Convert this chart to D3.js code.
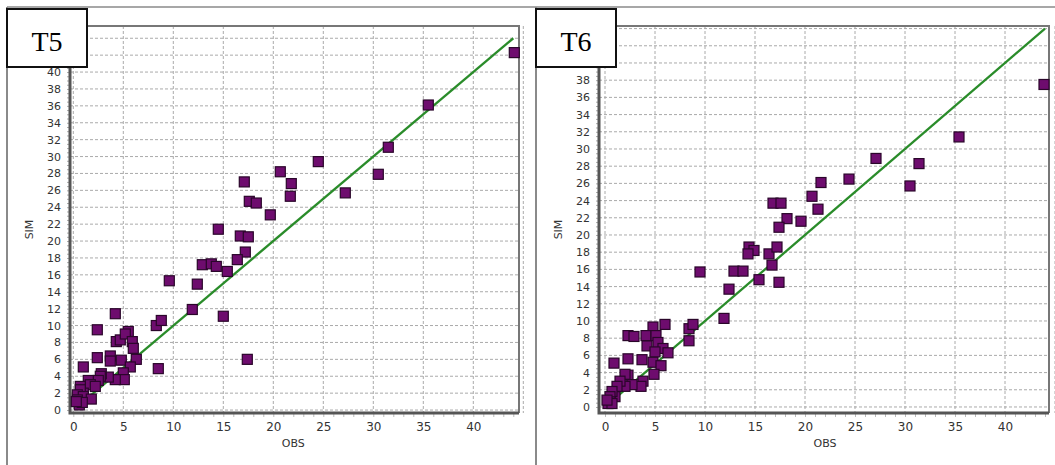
<!DOCTYPE html>
<html>
<head>
<meta charset="utf-8">
<script src="https://cdn.jsdelivr.net/npm/d3@7"></script>
<style>
  body { margin: 0; background: #fff; }
  svg { display: block; font-family: "DejaVu Sans", Verdana, sans-serif; }
</style>
</head>
<body>
<div class="chart"></div>
<script>
// Panel titles
const panelNames = ["T5", "T6"];

// Tick labels (42 and 44 sit under the title boxes, so they are left out)
const xTicks = [0, 5, 10, 15, 20, 25, 30, 35, 40];
const yTicks = d3.range(0, 41, 2);

// T5 observed / simulated
const t5Obs = [44.1, 35.5, 31.5, 30.5, 27.2, 24.5, 21.8, 21.7, 20.7, 17.1, 17.6, 18.3, 19.7, 14.5, 16.7, 17.5,
  17.2, 16.4, 12.9, 13.8, 14.3, 15.4, 9.6, 12.4, 11.9, 15.0, 17.4, 4.2, 2.4, 8.3, 8.8, 8.5,
  1.0, 2.4, 3.7, 3.7, 4.3, 4.7, 5.5, 5.2, 5.9, 6.0, 4.8, 6.3, 5.7, 5.0, 5.1, 4.2,
  3.5, 2.8, 2.7, 2.5, 1.5, 1.7, 2.2, 0.7, 1.0, 0.7, 0.4, 1.0, 1.8, 0.4, 0.6, 0.9, 0.3];
const t5Sim = [42.3, 36.1, 31.1, 27.9, 25.7, 29.4, 26.8, 25.3, 28.2, 27.0, 24.7, 24.5, 23.1, 21.4, 20.6, 20.5,
  18.7, 17.8, 17.2, 17.3, 17.0, 16.4, 15.3, 14.9, 11.9, 11.1, 6.0, 11.4, 9.5, 10.0, 10.6, 4.9,
  5.1, 6.2, 6.4, 5.8, 8.1, 8.3, 9.3, 9.0, 8.1, 7.3, 5.9, 6.0, 5.1, 4.4, 3.6, 3.6,
  3.9, 4.3, 4.0, 3.5, 3.5, 3.0, 2.8, 2.8, 2.0, 2.4, 1.8, 1.6, 1.3, 1.2, 0.6, 0.9, 1.0];

// T6 observed / simulated
const t6Obs = [43.9, 35.4, 27.1, 31.4, 30.5, 24.4, 21.6, 20.7, 21.3, 16.8, 17.6, 18.2, 19.6, 17.4, 14.4, 14.9,
  14.3, 16.4, 17.2, 16.7, 12.9, 13.8, 9.5, 12.4, 15.4, 17.4, 11.9, 8.4, 8.8, 8.4, 6.0, 4.8,
  4.1, 5.1, 2.3, 2.9, 4.2, 5.3, 5.8, 6.3, 5.0, 0.9, 2.3, 3.7, 4.8, 5.6, 4.9, 2.3,
  2.0, 3.8, 3.6, 2.7, 2.0, 1.5, 1.2, 1.0, 0.7, 0.5, 0.5, 0.3, 0.7, 0.2];
const t6Sim = [37.5, 31.4, 28.9, 28.3, 25.7, 26.5, 26.1, 24.5, 23.0, 23.7, 23.7, 21.9, 21.6, 20.9, 18.6, 18.2,
  17.8, 17.8, 18.6, 16.5, 15.8, 15.8, 15.7, 13.7, 14.8, 14.5, 10.3, 9.1, 9.6, 7.7, 9.6, 9.3,
  8.3, 8.3, 8.3, 8.2, 7.1, 7.5, 6.8, 6.3, 6.4, 5.1, 5.6, 5.5, 5.2, 4.8, 3.8, 3.7,
  3.8, 3.0, 2.4, 2.6, 2.4, 3.0, 2.4, 1.2, 1.8, 1.2, 0.6, 0.4, 0.4, 0.8];

// 1:1 reference line end points
const oneToOne = [0.3, 44];

const panels = [
  { name: panelNames[0], obs: t5Obs, sim: t5Sim, left: 70, right: 519, xDom: [-0.33, 44.57], yDom: [-0.35, 45.45], frameX: 7 },
  { name: panelNames[1], obs: t6Obs, sim: t6Sim, left: 599, right: 1049, xDom: [-0.6, 44.4], yDom: [-0.7, 44.3], frameX: 536 }
];

const W = 1055, H = 465;
const plotTop = 26, plotBottom = 413;

const svg = d3.select(".chart").append("svg")
  .attr("width", W)
  .attr("height", H);

// outer frame lines
svg.append("line").attr("x1", 7).attr("x2", W).attr("y1", 7).attr("y2", 7)
  .attr("stroke", "#8a8a8a").attr("stroke-width", 1.5);

panels.forEach(p => {
  const g = svg.append("g");

  g.append("line").attr("x1", p.frameX).attr("x2", p.frameX).attr("y1", 7).attr("y2", H)
    .attr("stroke", "#8a8a8a").attr("stroke-width", 2);

  const x = d3.scaleLinear().domain(p.xDom).range([p.left, p.right]);
  const y = d3.scaleLinear().domain(p.yDom).range([plotBottom, plotTop]);

  // grid
  g.append("g").selectAll("line")
    .data(d3.range(0, 46, 5))
    .join("line")
    .attr("x1", d => x(d)).attr("x2", d => x(d))
    .attr("y1", plotTop).attr("y2", plotBottom)
    .attr("stroke", "#aaa").attr("stroke-dasharray", "3,2");
  g.append("g").selectAll("line")
    .data(d3.range(0, 46, 2))
    .join("line")
    .attr("x1", p.left).attr("x2", p.right)
    .attr("y1", d => y(d)).attr("y2", d => y(d))
    .attr("stroke", "#aaa").attr("stroke-dasharray", "3,2");

  // top and right border
  g.append("path")
    .attr("d", `M${p.left},${plotTop}H${p.right}V${plotBottom}`)
    .attr("fill", "none").attr("stroke", "#777").attr("stroke-width", 2);

  // y axis minor ticks + labels
  const yAxis = g.append("g")
    .attr("transform", `translate(${p.left},0)`)
    .call(d3.axisLeft(y).tickValues(d3.range(0, 45, 0.5)).tickSize(3).tickFormat(""));
  yAxis.select(".domain").remove();
  yAxis.selectAll("line").attr("stroke", "#aaa");
  const yLab = g.append("g")
    .attr("transform", `translate(${p.left},0)`)
    .call(d3.axisLeft(y).tickValues(yTicks).tickSize(0).tickPadding(9));
  yLab.select(".domain").remove();
  yLab.selectAll("text").attr("fill", "#333").attr("font-size", 11)
    .attr("font-family", "DejaVu Sans, Verdana, sans-serif");

  // x axis minor ticks + labels
  const xAxis = g.append("g")
    .attr("transform", `translate(0,${plotBottom})`)
    .call(d3.axisBottom(x).tickValues(d3.range(0, 45, 1)).tickSize(4).tickFormat(""));
  xAxis.select(".domain").remove();
  xAxis.selectAll("line").attr("stroke", "#bbb");
  const xLab = g.append("g")
    .attr("transform", `translate(0,${plotBottom})`)
    .call(d3.axisBottom(x).tickValues(xTicks).tickSize(0).tickPadding(9));
  xLab.select(".domain").remove();
  xLab.selectAll("text").attr("fill", "#333").attr("font-size", 12)
    .attr("font-family", "DejaVu Sans, Verdana, sans-serif");

  // axis lines
  g.append("path")
    .attr("d", `M${p.left},${plotTop}V${plotBottom}H${p.right}`)
    .attr("fill", "none").attr("stroke", "#555").attr("stroke-width", 3);

  // axis titles
  g.append("text")
    .attr("transform", `translate(${p.left - 37},${(plotTop + plotBottom) / 2 + 10}) rotate(-90)`)
    .attr("text-anchor", "middle")
    .attr("font-size", 11).attr("fill", "#333")
    .text("SIM");
  g.append("text")
    .attr("x", x(22)).attr("y", 447)
    .attr("text-anchor", "middle")
    .attr("font-size", 11).attr("fill", "#333")
    .text("OBS");

  // 1:1 line
  g.append("line")
    .attr("x1", x(oneToOne[0])).attr("y1", y(oneToOne[0]))
    .attr("x2", x(oneToOne[1])).attr("y2", y(oneToOne[1]))
    .attr("stroke", "#2a8c2a").attr("stroke-width", 2.3);

  // points
  const pts = p.obs.map((o, i) => ({ obs: o, sim: p.sim[i] }));
  g.append("g").selectAll("rect")
    .data(pts)
    .join("rect")
    .attr("x", d => x(d.obs) - 5)
    .attr("y", d => y(d.sim) - 5)
    .attr("width", 10).attr("height", 10)
    .attr("fill", "#6e0c6e")
    .attr("stroke", "#2a062a").attr("stroke-width", 1.2);

  // panel label box
  g.append("rect")
    .attr("x", p.frameX).attr("y", 9)
    .attr("width", 80).attr("height", 58)
    .attr("fill", "#fff").attr("stroke", "#111").attr("stroke-width", 2);
  g.append("text")
    .attr("x", p.frameX + 40).attr("y", 51)
    .attr("text-anchor", "middle")
    .attr("font-family", "Liberation Serif, Times New Roman, serif")
    .attr("font-size", 28).attr("fill", "#000")
    .text(p.name);
});
</script>
</body>
</html>
